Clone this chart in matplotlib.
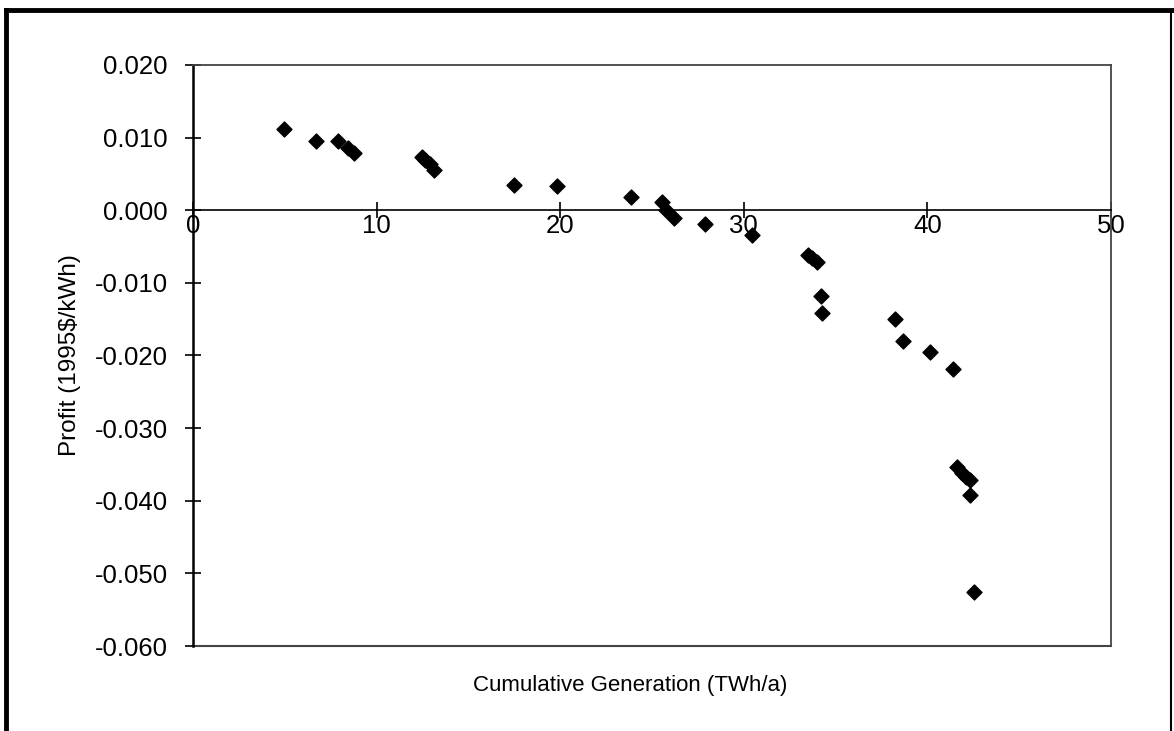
import matplotlib.pyplot as plt
from matplotlib.ticker import FormatStrFormatter, MultipleLocator
from matplotlib.lines import Line2D

plt.rcParams['font.family'] = ['Liberation Sans', 'DejaVu Sans']

# cumulative generation (TWh/a) and profit (1995$/kWh) per site
gen = [4.97, 6.70, 7.88, 8.46, 8.77, 12.45, 12.65, 12.9, 13.15, 17.48, 19.84,
       23.84, 25.53, 25.76, 26.2, 27.87, 30.47, 33.5, 33.7, 34.0, 34.18, 34.28,
       38.25, 38.69, 40.12, 41.37, 41.6, 41.86, 42.1, 42.3, 42.32, 42.54]
profit = [0.0112, 0.0096, 0.0096, 0.0086, 0.0079, 0.0073, 0.0069, 0.0063,
          0.0056, 0.0035, 0.0033, 0.0018, 0.0011, 0.0000, -0.0011, -0.0019,
          -0.0034, -0.0061, -0.0066, -0.0071, -0.0118, -0.0141, -0.0150,
          -0.0180, -0.0195, -0.0218, -0.0354, -0.0362, -0.0367, -0.0372,
          -0.0392, -0.0525]

W, H = 1174, 731
fig = plt.figure(figsize=(W / 100, H / 100), dpi=100)
ax = fig.add_axes([193 / W, 1 - 646 / H, (1111 - 193) / W, (646 - 65) / H])

ax.scatter(gen, profit, marker='D', s=58, color='black', zorder=3)

ax.set_xlim(0, 50)
ax.set_ylim(-0.06, 0.02)
ax.xaxis.set_major_locator(MultipleLocator(10))
ax.yaxis.set_major_locator(MultipleLocator(0.01))
ax.yaxis.set_major_formatter(FormatStrFormatter('%.3f'))

# x axis runs through zero, plot area keeps a thin box
ax.spines['bottom'].set_position(('data', 0))
ax.spines['bottom'].set_linewidth(1.2)
ax.spines['left'].set_linewidth(1.8)
for side in ['top', 'right']:
    ax.spines[side].set_color('#444444')
    ax.spines[side].set_linewidth(1.3)
ax.axhline(-0.06, color='#444444', lw=1.5, clip_on=False)

ax.tick_params(axis='both', direction='inout', length=12, width=1.2,
               labelsize=18.5, colors='black')
ax.tick_params(axis='x', pad=-3)
ax.tick_params(axis='y', pad=12)

ax.set_ylabel('Profit (1995$/kWh)', fontsize=17.5, labelpad=10)
fig.text(630 / W, 1 - 686 / H, 'Cumulative Generation (TWh/a)',
         fontsize=16, ha='center', va='center')

# page frame around the figure
frame = dict(color='black', lw=3.5, transform=fig.transFigure)
fig.add_artist(Line2D([6 / W, 6 / W], [0, 1 - 10 / H], **frame))
fig.add_artist(Line2D([6 / W, 1], [1 - 10 / H, 1 - 10 / H], **frame))
fig.add_artist(Line2D([1171 / W, 1171 / W], [0, 1 - 10 / H], color='black',
                      lw=1.5, transform=fig.transFigure))

fig.savefig('out.png', dpi=100)
